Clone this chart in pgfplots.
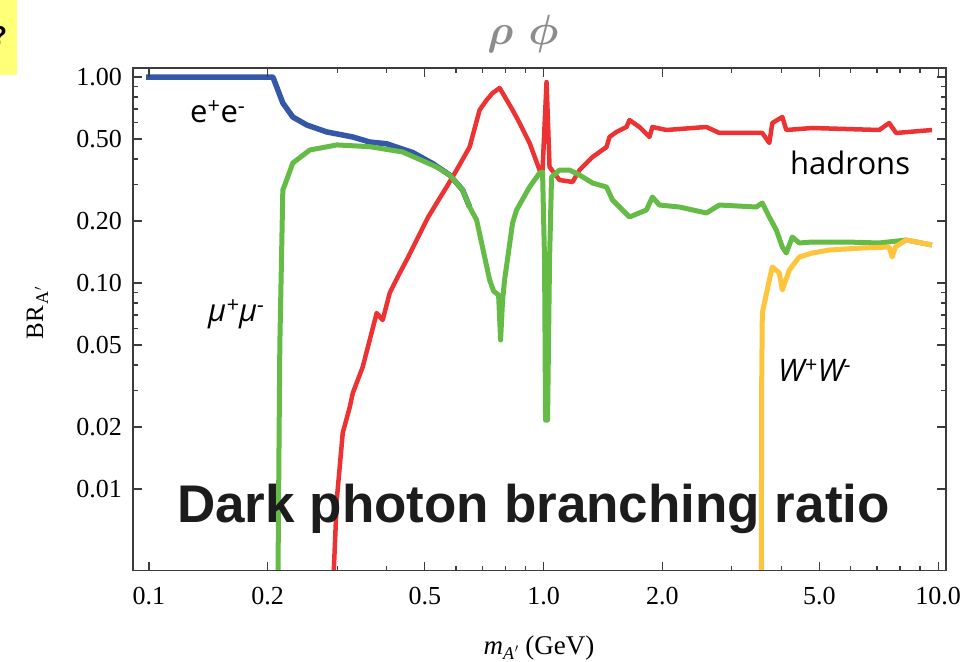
\documentclass[border=0pt]{standalone}
\usepackage{pgfplots}
\pgfplotsset{compat=1.18}
\usepackage{fontspec}
\setmainfont{Liberation Serif}
\newfontfamily\labelfont{Open Sans}
\newfontfamily\bigfont{Liberation Sans}
\usepackage{bm}
\definecolor{cblue}{RGB}{52,87,168}
\definecolor{cgreen}{RGB}{100,188,70}
\definecolor{cred}{RGB}{236,50,50}
\definecolor{cyellow}{RGB}{255,196,61}
\definecolor{axisgray}{RGB}{60,60,60}
\definecolor{titlegray}{RGB}{140,140,140}
\definecolor{bigtext}{RGB}{28,28,28}
\definecolor{yellowbox}{RGB}{255,255,120}
\begin{document}
\begin{tikzpicture}[x=1pt,y=1pt]
\useasboundingbox (0,0) rectangle (965,661);
\fill[yellowbox] (0,586) rectangle (16.7,661);
\begin{scope}
\clip (0,586) rectangle (16.7,661);
\node[anchor=base west, inner sep=0pt, font=\bigfont\bfseries\fontsize{26}{30}\selectfont] at (-9,616) {?};
\end{scope}
\begin{axis}[
  at={(133pt,90.5pt)}, anchor=south west,
  scale only axis, width=813pt, height=502.5pt,
  xmode=log, ymode=log,
  xmin=0.0911, xmax=10.47, ymin=0.00402, ymax=1.106,
  xtick={0.1,0.2,0.5,1,2,5,10},
  xticklabels={0.1,0.2,0.5,1.0,2.0,5.0,10.0},
  minor xtick={0.3,0.4,0.6,0.7,0.8,0.9,3,4,6,7,8,9},
  ytick={0.01,0.02,0.05,0.1,0.2,0.5,1},
  yticklabels={0.01,0.02,0.05,0.10,0.20,0.50,1.00},
  minor ytick={0.03,0.04,0.06,0.07,0.08,0.09,0.3,0.4,0.6,0.7,0.8,0.9},
  tick align=inside, tick pos=both, ticklabel pos=left,
  major tick length=9pt, minor tick length=5pt,
  every tick/.style={color=axisgray, line width=1.2pt},
  axis line style={axisgray, line width=1.5pt},
  tick label style={font=\fontsize{26}{30}\selectfont, inner sep=0pt, /pgf/number format/assume math mode=true},
  xticklabel style={anchor=north, yshift=-16.5pt},
  yticklabel style={anchor=east, xshift=-11pt},
  axis on top,
]
% e+e-
\addplot[cblue, line width=5.5pt, line join=round] coordinates {
(0.0983,1.0) (0.2061,1.0) (0.2184,0.748) (0.2315,0.6394) (0.2512,0.5848)
(0.2823,0.541) (0.3285,0.5115) (0.3627,0.4835) (0.4004,0.474) (0.4660,0.430)
(0.5236,0.38) (0.5781,0.3344) (0.6237,0.2828) (0.6496,0.2338)
};
% hadrons
\addplot[cred, line width=4.5pt, line join=round] coordinates {
(0.2922,0.003) (0.2992,0.00885) (0.3098,0.0187) (0.3228,0.025) (0.3285,0.0292)
(0.3481,0.0391) (0.3777,0.0715) (0.3912,0.0661) (0.4075,0.0894) (0.4320,0.1118)
(0.4498,0.1293) (0.4770,0.1617) (0.5085,0.2068) (0.5360,0.2445) (0.5679,0.2924)
(0.6021,0.3535) (0.6496,0.4572) (0.6886,0.6915) (0.7174,0.7733) (0.7430,0.8363)
(0.7738,0.8843) (0.7876,0.8363) (0.8346,0.6915) (0.8694,0.5979) (0.9216,0.4783)
(0.9770,0.3535) (0.9942,0.3535) (1.0176,0.9456) (1.0356,0.3657) (1.0977,0.3162)
(1.1844,0.3093) (1.2334,0.3535) (1.3308,0.4089) (1.4440,0.4572) (1.4693,0.5115)
(1.5302,0.541) (1.6224,0.572) (1.6511,0.6183) (1.75,0.572) (1.855,0.5115)
(1.8877,0.572) (2.0478,0.553) (2.5862,0.572) (2.7911,0.5348) (3.5847,0.5348)
(3.7341,0.4783) (3.8,0.5979) (4.0284,0.6394) (4.123,0.553) (4.7973,0.5656)
(7.0894,0.553) (7.514,0.5979) (7.8279,0.5348) (9.65,0.553)
};
% mu+mu-
\addplot[cgreen, line width=5pt, line join=round] coordinates {
(0.2121,0.003) (0.2146,0.05) (0.2184,0.2828) (0.2209,0.299) (0.2315,0.3825)
(0.2556,0.4421) (0.2992,0.468) (0.3627,0.459) (0.4396,0.4324) (0.5360,0.3657)
(0.5781,0.3344) (0.6237,0.2828) (0.6496,0.2338) (0.6767,0.2022) (0.7301,0.1034)
(0.7472,0.0914) (0.7693,0.0874) (0.7784,0.0529) (0.7876,0.0827) (0.7967,0.1034)
(0.8346,0.1955) (0.8543,0.2262) (0.9216,0.2924) (0.9770,0.342) (0.9942,0.3458)
(1.0058,0.1293) (1.0117,0.0216) (1.0236,0.0216) (1.0356,0.1293) (1.0477,0.327)
(1.0977,0.3535) (1.1636,0.3535) (1.2334,0.3344) (1.3308,0.3058) (1.4440,0.2924)
(1.4954,0.2529) (1.6511,0.2091) (1.8229,0.2262) (1.8877,0.2615) (1.9658,0.2391)
(2.2101,0.2338) (2.5862,0.2187) (2.7911,0.2391) (3.4617,0.2338) (3.5847,0.2445)
(3.7341,0.2091) (3.8898,0.1808) (4.0284,0.1495) (4.1230,0.1398) (4.2700,0.1672)
(4.4476,0.1564) (4.7973,0.1581) (5.8492,0.1581) (7.0894,0.1564) (8.2985,0.1617)
(9.65,0.1529)
};
% W+W-
\addplot[cyellow, line width=5pt, line join=round] coordinates {
(3.564,0.003) (3.57,0.03) (3.5847,0.0715) (3.7341,0.1034) (3.8,0.1196)
(3.9585,0.1118) (4.0284,0.0925) (4.1958,0.1156) (4.4476,0.1337) (4.7973,0.1398)
(5.2987,0.1446) (6.4224,0.1479) (7.514,0.1495) (7.6469,0.1337) (7.8,0.15)
(8.2985,0.1617) (9.65,0.1529)
};
\end{axis}
% curve labels
\node[anchor=base west, inner sep=0pt, font=\labelfont\fontsize{31}{36}\selectfont] at (190,538) {e\textsuperscript{+}e\textsuperscript{-}};
\node[anchor=base west, inner sep=0pt, font=\labelfont\fontsize{31}{36}\selectfont] at (790,486) {hadrons};
\node[anchor=base west, inner sep=0pt, font=\labelfont\itshape\fontsize{31}{36}\selectfont] at (208,339) {μ\textsuperscript{+}μ\textsuperscript{-}};
\node[anchor=base west, inner sep=0pt, font=\labelfont\itshape\fontsize{31}{36}\selectfont] at (778,279) {W\textsuperscript{+}W\textsuperscript{-}};
% title
\node[anchor=base west, inner sep=0pt, text=titlegray, scale=1.7] at (487,616) {\Huge$\bm{\rho}$\hspace{9pt}$\bm{\phi}$};
% big overlay text
\node[anchor=base west, inner sep=0pt, text=bigtext, font=\bigfont\bfseries\fontsize{53}{60}\selectfont] at (177,139) {Dark photon branching ratio};
% axis labels
\node[rotate=90, anchor=base, inner sep=0pt, font=\fontsize{25}{30}\selectfont] at (43,348) {BR\kern1pt\raisebox{-5pt}{\fontsize{18}{20}\selectfont A\kern1pt$'$}};
\node[anchor=base, inner sep=0pt, font=\fontsize{27}{32}\selectfont] at (539,7) {\textit{m}\raisebox{-5pt}{\fontsize{18}{20}\selectfont\textit{A}\kern0.5pt$'$}\ (GeV)};
\end{tikzpicture}
\end{document}
